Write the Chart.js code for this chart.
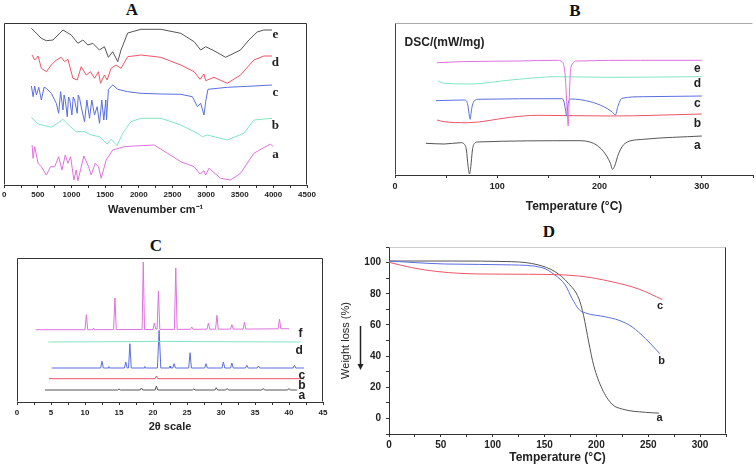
<!DOCTYPE html>
<html>
<head>
<meta charset="utf-8">
<script src="https://cdn.jsdelivr.net/npm/chart.js@4.4.0/dist/chart.umd.min.js"></script>
<style>
  html, body { margin: 0; padding: 0; background: #fff; }
  body { position: relative; width: 756px; height: 464px; overflow: hidden; }
  .panel { position: absolute; }
  .letter { position: absolute; font: bold 17px "Liberation Serif", "Times New Roman", serif; color: #111; transform: translate(-50%, -50%); line-height: 17px; }
</style>
</head>
<body>
<div class="letter" style="left:132px; top:9px;">A</div>
<div class="letter" style="left:575px; top:10px;">B</div>
<div class="letter" style="left:156px; top:245px;">C</div>
<div class="letter" style="left:549px; top:231px;">D</div>

<canvas id="chartA" class="panel" width="378" height="232" style="left:0; top:0;"></canvas>
<canvas id="chartB" class="panel" width="378" height="232" style="left:378px; top:0;"></canvas>
<canvas id="chartC" class="panel" width="378" height="232" style="left:0; top:232px;"></canvas>
<canvas id="chartD" class="panel" width="426" height="232" style="left:330px; top:232px;"></canvas>

<script>
// ---- A: FTIR spectra (wavenumber vs offset transmittance) ----
const irWnA = [414, 429, 453, 503, 552, 626, 690, 750, 809, 858, 907, 947, 986, 1036, 1070, 1095, 1184, 1253, 1292, 1352, 1401, 1441, 1515, 1613, 1786, 1934, 2229, 2427, 2624, 2822, 2910, 2969, 2994, 3043, 3216, 3364, 3512, 3710, 3957, 3996];
const irA   = [40, 26.7, 38.3, 21.7, 18.3, 10, 18.3, 18.3, 28.3, 15, 30, 21.7, 28.3, 5, 15, 4.3, 29, 18.3, 10, 21.7, 18.3, 6.7, 25, 35, 38.3, 39, 40, 31.7, 23.3, 18.3, 11, 14.3, 10, 16.7, 6.7, 5, 11.7, 31.7, 41, 38.3];

const irWnB = [404, 503, 700, 873, 971, 1070, 1194, 1292, 1416, 1529, 1588, 1677, 1761, 1884, 2032, 2328, 2624, 2871, 2945, 3018, 3315, 3562, 3710, 3981];
const irB   = [67.7, 61, 57.7, 65.7, 59, 53.3, 53.3, 50, 48.3, 41, 45.7, 39.3, 51.7, 63.3, 66.7, 66.7, 60, 51.7, 48.3, 50, 45, 51.7, 65, 66.7];

const irWnC = [404, 429, 453, 478, 513, 552, 592, 626, 700, 774, 809, 838, 873, 890, 907, 937, 955, 971, 1006, 1025, 1046, 1085, 1100, 1120, 1154, 1194, 1228, 1268, 1302, 1342, 1381, 1416, 1450, 1480, 1510, 1520, 1549, 1613, 1687, 1835, 2032, 2328, 2624, 2797, 2871, 2920, 2969, 2994, 3028, 3315, 3710, 3981];
const irC   = [99, 88.3, 99, 90, 97.7, 85, 97.7, 96.7, 91.7, 81.7, 71.7, 93.3, 75, 90, 85, 68.3, 88, 86.7, 70, 88, 85, 71.7, 90, 86.7, 75, 63.3, 85, 66.7, 85, 70, 78.3, 61.7, 85, 65, 85, 65, 95.7, 100, 95.7, 93.3, 91.7, 91, 90.7, 88.3, 78.3, 81.7, 70, 83.3, 95.7, 97.7, 99, 100];

const irWnD = [414, 453, 503, 552, 626, 700, 774, 848, 897, 947, 1021, 1085, 1144, 1218, 1283, 1342, 1401, 1431, 1490, 1529, 1588, 1662, 1736, 1835, 2032, 2328, 2624, 2822, 2910, 2969, 2994, 3117, 3315, 3512, 3710, 3858, 3981];
const irD   = [130, 125, 129, 116.7, 113.3, 120, 125, 127.7, 123.3, 125.7, 106.7, 105, 118.3, 110, 113.3, 106.7, 113.3, 101.7, 110, 105, 116.7, 120, 116.7, 128.3, 130, 127.7, 120, 113.3, 105.7, 111, 104.3, 107.7, 101.7, 110, 125, 129, 129];

const irWnE = [404, 552, 626, 725, 873, 996, 1095, 1169, 1243, 1317, 1415, 1489, 1548, 1613, 1687, 1736, 1835, 2032, 2328, 2624, 2822, 2920, 2994, 3117, 3290, 3512, 3636, 3760, 3858, 3981];
const irE   = [156.7, 146.7, 144.3, 145, 155, 150, 141.7, 145, 140, 141.7, 135, 138.3, 127.7, 133.3, 123.3, 135, 152, 155.7, 155.7, 151.7, 143.3, 135, 138.3, 134.3, 127.7, 135, 145, 153, 155, 155];

// ---- B: DSC curves (temperature vs offset heat flow) ----
const dscTA = [30.2, 48, 64.4, 68, 69.8, 71.5, 72.8, 74.1, 75.7, 77.5, 80.6, 178, 194, 204, 210.6, 212.6, 214.5, 218.7, 225, 243, 300];
const dscA  = [31.7, 31, 32.3, 30.5, 25, 8.3, 1, 8.3, 25, 31.5, 33, 34.3, 31.7, 23.3, 11.7, 5.7, 8.3, 21.7, 31.7, 35.7, 39];
const dscTB = [41, 48, 70.9, 113, 139, 210.6, 300];
const dscB  = [55, 53.3, 52.3, 57.7, 59.7, 59, 61];
const dscTC = [40, 67.6, 70.2, 71.5, 72.6, 73.5, 74.4, 75.7, 77.5, 80.6, 163, 165, 166.7, 167.7, 168.5, 169.3, 170.5, 171.6, 191, 204, 212, 215.5, 217.8, 222, 243, 300];
const dscC  = [74.3, 75, 73.5, 68, 60, 55.7, 62, 70, 74, 75.7, 76.3, 74, 65, 59, 65, 71.7, 75, 76, 73.3, 68.3, 63.3, 60, 68.3, 76.7, 78.3, 79];
const dscTD = [42, 48, 74, 113, 158.6, 210.6, 300];
const dscD  = [94.3, 91.7, 91, 95, 98.3, 97.7, 98.3];
const dscTE = [41, 64, 120, 158.6, 163.5, 165.5, 166.7, 167.6, 168.4, 169.3, 170.3, 171.2, 172, 178, 240, 300];
const dscE  = [112.3, 113.3, 114, 114.7, 113.3, 107, 95, 78, 61.7, 49, 75, 98, 108, 114, 114.7, 114.7];

// ---- C: XRD patterns (2theta vs offset intensity) ----
const xrdXA = [4.1, 14.8, 15.0, 15.2, 18.1, 18.3, 18.5, 20.3, 20.5, 20.7, 25.8, 26.0, 26.2, 29.1, 29.3, 29.5, 30.7, 30.9, 31.1, 36.0, 36.2, 36.4, 39.8, 40.0, 40.2, 41.2];
const xrdA  = [12, 12, 13, 12, 12, 14, 12, 12, 16, 12, 12, 13, 12, 12, 14.3, 12, 12, 13.5, 12, 12, 13.5, 12, 12, 13.5, 12, 12];
const xrdXB = [4.7, 20.3, 20.5, 20.7, 42.2];
const xrdB  = [23.3, 23.3, 26, 23.3, 23.3];
const xrdXC = [5.1, 12.3, 12.5, 12.7, 13.4, 13.5, 13.6, 15.8, 16.0, 16.2, 16.4, 16.6, 16.8, 18.7, 18.8, 18.9, 20.65, 20.9, 21.15, 22.4, 22.5, 22.6, 22.9, 23.1, 23.3, 25.25, 25.45, 25.65, 27.6, 27.8, 28.0, 30.15, 30.35, 30.55, 31.4, 31.6, 31.8, 33.6, 33.8, 34.0, 35.3, 35.5, 35.7, 40.6, 40.8, 41.0, 42.2];
const xrdC  = [34, 34, 40.7, 34, 34, 35.5, 34, 34, 40, 34, 34, 58.3, 34, 34, 35.5, 34, 34, 71.7, 34, 34, 36, 34, 34, 38.3, 34, 34, 49.3, 34, 34, 38.3, 34, 34, 40, 34, 34, 39, 34, 34, 36.7, 34, 34, 36, 34, 34, 36.7, 34, 34];
const xrdXD = [4.6, 15, 21, 30, 41.7];
const xrdD  = [60, 60.3, 60.6, 60.3, 60];
const xrdXF = [2.75, 10.0, 10.2, 10.4, 11.1, 11.25, 11.4, 14.2, 14.4, 14.6, 18.4, 18.57, 18.75, 20.0, 20.2, 20.4, 20.6, 20.8, 21.0, 23.15, 23.35, 23.55, 25.5, 25.7, 25.9, 27.95, 28.15, 28.35, 29.2, 29.4, 29.6, 31.4, 31.6, 31.8, 33.25, 33.45, 33.65, 38.4, 38.6, 38.8, 40.0];
const xrdF  = [72.3, 72.3, 87.3, 72.3, 72.3, 74, 72.3, 72.4, 104, 72.4, 72.5, 140, 72.5, 72.5, 79, 73, 73, 110.7, 72.6, 72.6, 134, 72.6, 72.7, 75, 72.7, 72.8, 79, 72.8, 72.8, 86.7, 72.8, 72.9, 77.3, 72.9, 72.9, 80, 72.9, 73.2, 82.7, 73.2, 73.3];

// ---- D: TGA curves (temperature vs weight %) ----
const tgaTA = [0, 60, 118.4, 144, 160, 173, 183, 187.6, 192.6, 197.4, 205.5, 215, 225, 247.4, 260.3];
const tgaA  = [101, 101, 100.6, 98.5, 94.2, 86.7, 77, 66.2, 49, 34, 19, 9.2, 6, 3.9, 3.4];
const tgaTB = [0, 54, 118.4, 147.4, 160, 170, 176.5, 183, 189.4, 208.7, 221.6, 234.5, 247.4, 261.3];
const tgaB  = [101, 99.1, 98.5, 96.8, 92, 85.6, 77, 70.1, 67.7, 65.2, 63, 58.7, 51.2, 41.5];
const tgaTC = [0, 21.6, 47.4, 86, 134.5, 183, 215, 241, 263.6];
const tgaC  = [100.2, 96.8, 94.2, 92.7, 92.5, 91.4, 87.7, 83, 76.3];

const GRAY = '#555555', RED = '#ee5566', BLUE = '#5a6ee0', GREEN = '#80e6c0', PINK = '#e070e0';

Chart.defaults.font.family = '"Liberation Sans", Arial, sans-serif';
Chart.defaults.color = '#222';
Chart.defaults.animation = false;

// draws the plot frame sides that no axis draws
const framePlugin = {
    id: 'frame',
    afterDraw(chart, args, opts) {
        const ctx = chart.ctx, a = chart.chartArea;
        const l = Math.round(a.left) + 0.5, r = Math.round(a.right) - 0.5;
        const t = Math.round(a.top) + 0.5, b = Math.round(a.bottom) - 0.5;
        ctx.save();
        ctx.lineWidth = 1;
        const side = (col, x1, y1, x2, y2) => {
            if (!col) return;
            ctx.strokeStyle = col;
            ctx.beginPath(); ctx.moveTo(x1, y1); ctx.lineTo(x2, y2); ctx.stroke();
        };
        side(opts.top, l, t, r, t);
        side(opts.left, l, t, l, b);
        side(opts.right, r, t, r, b);
        ctx.restore();
    }
};

// curve letters and other in-plot text, placed in data units
const tagPlugin = {
    id: 'tags',
    afterDatasetsDraw(chart, args, opts) {
        if (!opts.items) return;
        const ctx = chart.ctx, sx = chart.scales.x, sy = chart.scales.y;
        ctx.save();
        ctx.fillStyle = '#222';
        ctx.textBaseline = 'middle';
        opts.items.forEach(it => {
            ctx.font = it.font || opts.font;
            ctx.textAlign = it.align || 'center';
            ctx.fillText(it.text, sx.getPixelForValue(it.x), sy.getPixelForValue(it.y));
        });
        ctx.restore();
    }
};

// downward arrow beside the weight-loss axis title
const arrowPlugin = {
    id: 'arrow',
    afterDraw(chart, args, opts) {
        if (!opts.show) return;
        const ctx = chart.ctx, a = chart.chartArea;
        const x = a.left - 28.5, y1 = a.top + 79, y2 = a.top + 123;
        ctx.save();
        ctx.strokeStyle = '#222'; ctx.fillStyle = '#222'; ctx.lineWidth = 1.5;
        ctx.beginPath(); ctx.moveTo(x, y1); ctx.lineTo(x, y2 - 5); ctx.stroke();
        ctx.beginPath(); ctx.moveTo(x - 3, y2 - 6); ctx.lineTo(x + 3, y2 - 6); ctx.lineTo(x, y2); ctx.closePath(); ctx.fill();
        ctx.restore();
    }
};

Chart.register(framePlugin, tagPlugin, arrowPlugin);

function series(xs, ys, color, label, smooth) {
    return {
        label: label,
        data: xs.map((x, i) => ({ x: x, y: ys[i] })),
        borderColor: color,
        borderWidth: 1,
        pointRadius: 0,
        fill: false,
        cubicInterpolationMode: smooth ? 'monotone' : 'default',
        tension: 0
    };
}

function xAxis(cfg) {
    return {
        type: 'linear',
        min: cfg.min, max: cfg.max,
        afterFit: s => { s.height = cfg.height; },
        grid: { drawOnChartArea: false, drawTicks: true, tickLength: 3, color: '#333' },
        border: { color: '#333', width: 1 },
        ticks: {
            stepSize: cfg.step, autoSkip: false, maxRotation: 0, minRotation: 0, padding: cfg.tickPad,
            font: { size: cfg.tickSize, weight: 'bold' }, color: '#222',
            callback: v => (v % cfg.every === 0 ? String(v) : '')
        },
        title: {
            display: true, text: cfg.title, color: '#222',
            font: { size: cfg.titleSize, weight: 'bold', lineHeight: 1.2 },
            padding: { top: 0, bottom: cfg.titlePad }
        }
    };
}

function baseOptions(pad, x, y, frame, tags) {
    return {
        responsive: false,
        animation: false,
        devicePixelRatio: 1,
        layout: { padding: pad },
        scales: { x: x, y: y },
        plugins: { legend: { display: false }, tooltip: { enabled: false }, frame: frame, tags: tags, arrow: { show: false } }
    };
}

// ---- Panel A ----
new Chart(document.getElementById('chartA'), {
    type: 'line',
    data: { datasets: [
        series(irWnE, irE, GRAY, 'e'),
        series(irWnD, irD, RED, 'd'),
        series(irWnC, irC, BLUE, 'c'),
        series(irWnB, irB, GREEN, 'b'),
        series(irWnA, irA, PINK, 'a')
    ] },
    options: baseOptions(
        { left: 3, right: 71, top: 23, bottom: 0 },
        xAxis({ min: 0, max: 4500, step: 250, every: 500, height: 47, tickPad: 2, tickSize: 8, title: 'Wavenumber cm\u207B\u00B9', titleSize: 11, titlePad: 15 }),
        { type: 'linear', display: false, min: 0, max: 162 },
        { top: '#333', left: '#333', right: '#333' },
        { font: 'bold 13px "Liberation Serif", serif', items: [
            { text: 'e', x: 4030, y: 150 },
            { text: 'd', x: 4030, y: 122.7 },
            { text: 'c', x: 4030, y: 92.3 },
            { text: 'b', x: 4030, y: 59.3 },
            { text: 'a', x: 4030, y: 30.7 }
        ] }
    )
});

// ---- Panel B ----
new Chart(document.getElementById('chartB'), {
    type: 'line',
    data: { datasets: [
        series(dscTE, dscE, PINK, 'e', true),
        series(dscTD, dscD, GREEN, 'd', true),
        series(dscTC, dscC, BLUE, 'c', true),
        series(dscTB, dscB, RED, 'b', true),
        series(dscTA, dscA, GRAY, 'a', true)
    ] },
    options: baseOptions(
        { left: 17, right: 1, top: 23, bottom: 0 },
        xAxis({ min: 0, max: 350, step: 50, every: 100, height: 57, tickPad: 3, tickSize: 9, title: 'Temperature (\u00B0C)', titleSize: 12, titlePad: 18 }),
        { type: 'linear', display: false, min: 0, max: 152 },
        { top: '#aaa', left: '#444' },
        { font: 'bold 12px "Liberation Sans", Arial, sans-serif', items: [
            { text: 'DSC/(mW/mg)', x: 9.4, y: 132, align: 'left' },
            { text: 'e', x: 295.7, y: 106 },
            { text: 'd', x: 295.7, y: 91.7 },
            { text: 'c', x: 295.7, y: 71.7 },
            { text: 'b', x: 295.7, y: 51.7 },
            { text: 'a', x: 295.7, y: 29.3 }
        ] }
    )
});

// ---- Panel C ----
new Chart(document.getElementById('chartC'), {
    type: 'line',
    data: { datasets: [
        series(xrdXF, xrdF, PINK, 'f'),
        series(xrdXD, xrdD, GREEN, 'd'),
        series(xrdXC, xrdC, BLUE, 'c'),
        series(xrdXB, xrdB, RED, 'b'),
        series(xrdXA, xrdA, GRAY, 'a')
    ] },
    options: baseOptions(
        { left: 17, right: 55, top: 26, bottom: 0 },
        xAxis({ min: 0, max: 45, step: 2.5, every: 5, height: 62, tickPad: 3, tickSize: 8, title: '2\u03B8 scale', titleSize: 11, titlePad: 30 }),
        { type: 'linear', display: false, min: 0, max: 144 },
        { top: '#333', left: '#333', right: '#333' },
        { font: 'bold 12px "Liberation Sans", Arial, sans-serif', items: [
            { text: 'f', x: 41.7, y: 68.3 },
            { text: 'd', x: 41.5, y: 51.7 },
            { text: 'c', x: 41.9, y: 26.7 },
            { text: 'b', x: 41.9, y: 16 },
            { text: 'a', x: 41.9, y: 6.7 }
        ] }
    )
});

// ---- Panel D ----
const optD = baseOptions(
    { left: 0, right: 30, top: 15, bottom: 0 },
    xAxis({ min: 0, max: 325, step: 25, every: 50, height: 30, tickPad: 2, tickSize: 10, title: 'Temperature (\u00B0C)', titleSize: 12, titlePad: 0 }),
    {
        type: 'linear', min: -10, max: 110,
        afterFit: s => { s.width = 59; },
        grid: { drawOnChartArea: false, drawTicks: true, tickLength: 3, color: '#333' },
        border: { color: '#333', width: 1 },
        ticks: {
            stepSize: 10, autoSkip: false, padding: 5,
            font: { size: 10, weight: 'bold' }, color: '#222',
            callback: v => (v % 20 === 0 && v >= 0 && v <= 100 ? String(v) : '')
        },
        title: {
            display: true, text: 'Weight loss (%)', color: '#222',
            font: { size: 11, lineHeight: 1.2 },
            padding: { top: 9, bottom: 0 }
        }
    },
    { top: '#ccc', right: '#333' },
    { font: 'bold 11px "Liberation Sans", Arial, sans-serif', items: [
        { text: 'c', x: 261.3, y: 72.3 },
        { text: 'b', x: 262.9, y: 36.6 },
        { text: 'a', x: 261, y: 0 }
    ] }
);
optD.scales.x.title.font.lineHeight = 1;
optD.plugins.arrow = { show: true };

new Chart(document.getElementById('chartD'), {
    type: 'line',
    data: { datasets: [
        series(tgaTC, tgaC, RED, 'c', true),
        series(tgaTB, tgaB, BLUE, 'b', true),
        series(tgaTA, tgaA, GRAY, 'a', true)
    ] },
    options: optD
});
</script>
</body>
</html>
